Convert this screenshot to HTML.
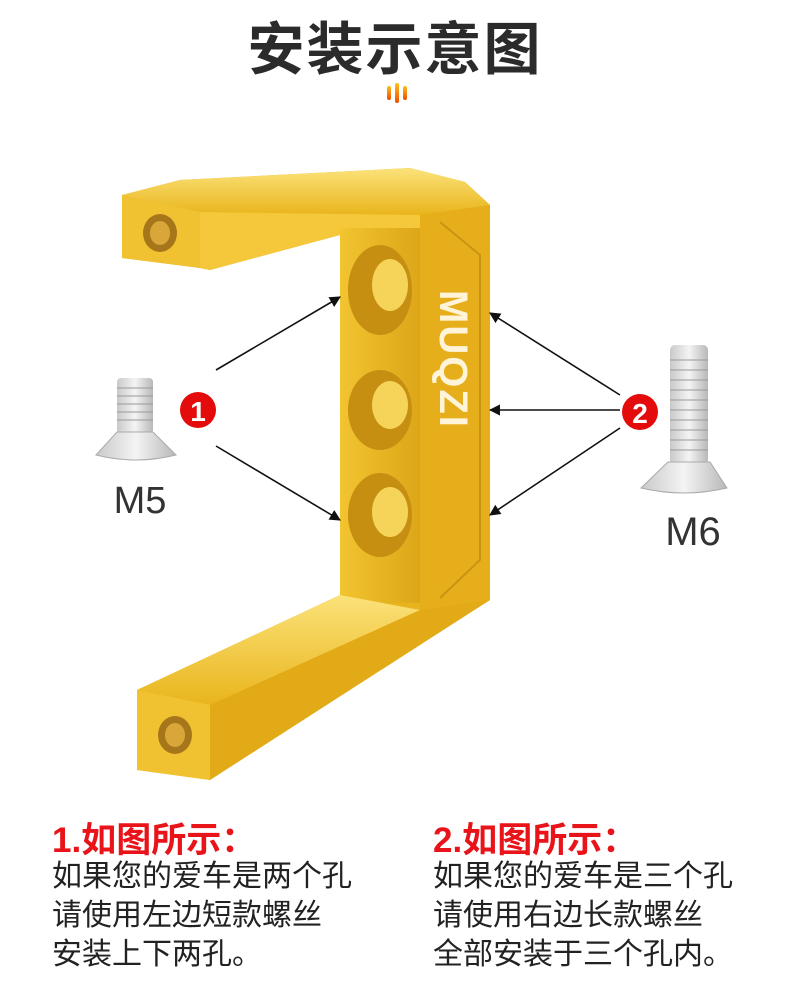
<!DOCTYPE html>
<html><head><meta charset="utf-8"><style>
html,body{margin:0;padding:0;background:#fff;}
body{width:790px;height:989px;position:relative;overflow:hidden;font-family:"Liberation Sans","Noto Sans CJK SC",sans-serif;}
.t{position:absolute;white-space:nowrap;}
</style></head><body>
<div class="t" style="left:0;width:790px;top:4px;text-align:center;font-size:57px;font-weight:bold;color:#2b2b2b;letter-spacing:2px;">安装示意图</div>
<svg width="790" height="989" style="position:absolute;left:0;top:0">
<defs>
<linearGradient id="g1" x1="0" y1="0" x2="0" y2="1"><stop offset="0" stop-color="#fbe27a"/><stop offset="1" stop-color="#e9b51c"/></linearGradient>
<linearGradient id="g2" x1="0" y1="0" x2="1" y2="0"><stop offset="0" stop-color="#f2c430"/><stop offset="1" stop-color="#dca618"/></linearGradient>
<linearGradient id="o" x1="0" y1="0" x2="0" y2="1"><stop offset="0" stop-color="#ffc21a"/><stop offset="1" stop-color="#f04a00"/></linearGradient>
<linearGradient id="s" x1="0" y1="0" x2="1" y2="0"><stop offset="0" stop-color="#c9c9c9"/><stop offset="0.5" stop-color="#f4f4f4"/><stop offset="1" stop-color="#b8b8b8"/></linearGradient>
<marker id="a" viewBox="0 0 10 10" refX="9" refY="5" markerWidth="7" markerHeight="7" orient="auto"><path d="M0,0L10,5L0,10z" fill="#111"/></marker>
</defs>
<rect x="387" y="86" width="4" height="14" rx="2" fill="url(#o)"/>
<rect x="395" y="83" width="4" height="20" rx="2" fill="url(#o)"/>
<rect x="403" y="86" width="4" height="14" rx="2" fill="url(#o)"/>
<path d="M122,195 L180,180 L410,168 L465,182 L490,205 L490,600 L420,640 L210,780 L137,770 L137,690 L340,595 L340,235 L210,270 L200,268 L122,258 Z" fill="#e8b41e"/>
<path d="M122,195 L180,180 L410,168 L465,182 L490,205 L420,215 L200,212 Z" fill="url(#g1)"/>
<path d="M122,195 L200,212 L200,268 L122,258 Z" fill="#f0c232"/>
<path d="M200,212 L420,215 L420,230 L340,235 L210,270 L200,268 Z" fill="#f4c83a"/>
<rect x="340" y="228" width="80" height="375" fill="url(#g2)"/>
<path d="M420,215 L490,205 L490,600 L420,640 Z" fill="#e6ae1a"/>
<path d="M137,690 L340,595 L420,610 L210,705 Z" fill="url(#g1)"/>
<path d="M137,690 L210,705 L210,780 L137,770 Z" fill="#f0c232"/>
<path d="M210,705 L420,610 L490,600 L420,645 L210,780 Z" fill="#e3aa18"/>
<path d="M440,222 L480,255 L480,560 L440,598" fill="none" stroke="#c99414" stroke-width="2"/>
<ellipse cx="160" cy="233" rx="17" ry="19" fill="#a7761a"/><ellipse cx="160" cy="233" rx="10" ry="12" fill="#d9a63a"/>
<ellipse cx="175" cy="735" rx="17" ry="19" fill="#a7761a"/><ellipse cx="175" cy="735" rx="10" ry="12" fill="#d9a63a"/>
<g fill="#c78f12"><ellipse cx="380" cy="290" rx="32" ry="45"/><ellipse cx="380" cy="410" rx="32" ry="40"/><ellipse cx="380" cy="515" rx="32" ry="42"/></g>
<g fill="#f6d45a"><ellipse cx="390" cy="285" rx="18" ry="26"/><ellipse cx="390" cy="405" rx="18" ry="24"/><ellipse cx="390" cy="512" rx="18" ry="25"/></g>
<text x="0" y="0" transform="translate(440,290) rotate(90)" font-family="Liberation Sans" font-weight="bold" font-size="40" fill="#fff4d8" letter-spacing="2">MUQZI</text>
<g stroke="#111" stroke-width="1.6" marker-end="url(#a)">
<line x1="216" y1="370" x2="340" y2="297"/>
<line x1="216" y1="446" x2="340" y2="520"/>
<line x1="620" y1="395" x2="490" y2="313"/>
<line x1="620" y1="410" x2="490" y2="410"/>
<line x1="620" y1="428" x2="490" y2="515"/>
</g>
<circle cx="198" cy="410" r="18" fill="#e30b0b"/>
<text x="198" y="421" text-anchor="middle" font-family="Liberation Sans" font-weight="bold" font-size="28" fill="#fff">1</text>
<circle cx="640" cy="412" r="18" fill="#e30b0b"/>
<text x="640" y="423" text-anchor="middle" font-family="Liberation Sans" font-weight="bold" font-size="28" fill="#fff">2</text>
<rect x="117" y="378" width="36" height="56" rx="4" fill="url(#s)"/>
<g stroke="#999" stroke-width="1">
<line x1="117" y1="388" x2="153" y2="388"/><line x1="117" y1="396" x2="153" y2="396"/><line x1="117" y1="404" x2="153" y2="404"/><line x1="117" y1="412" x2="153" y2="412"/><line x1="117" y1="420" x2="153" y2="420"/></g>
<path d="M117,432 L153,432 L176,455 Q136,465 96,455 Z" fill="url(#s)" stroke="#aaa"/>
<rect x="670" y="345" width="38" height="120" rx="5" fill="url(#s)"/>
<g stroke="#999" stroke-width="1">
<line x1="670" y1="360" x2="708" y2="360"/><line x1="670" y1="370" x2="708" y2="370"/><line x1="670" y1="380" x2="708" y2="380"/><line x1="670" y1="390" x2="708" y2="390"/><line x1="670" y1="400" x2="708" y2="400"/><line x1="670" y1="410" x2="708" y2="410"/><line x1="670" y1="420" x2="708" y2="420"/><line x1="670" y1="430" x2="708" y2="430"/><line x1="670" y1="440" x2="708" y2="440"/><line x1="670" y1="450" x2="708" y2="450"/></g>
<path d="M668,462 L710,462 L727,488 Q684,498 641,488 Z" fill="url(#s)" stroke="#aaa"/>
<text x="140" y="513" text-anchor="middle" font-family="Liberation Sans" font-size="38" fill="#333">M5</text>
<text x="693" y="545" text-anchor="middle" font-family="Liberation Sans" font-size="40" fill="#333">M6</text>
</svg>
<div class="t" style="left:52px;top:812px;font-size:35px;font-weight:bold;color:#e8141a;">1.如图所示：</div>
<div class="t" style="left:52px;top:857px;font-size:30px;color:#222;line-height:39px;">如果您的爱车是两个孔<br>请使用左边短款螺丝<br>安装上下两孔。</div>
<div class="t" style="left:433px;top:812px;font-size:35px;font-weight:bold;color:#e8141a;">2.如图所示：</div>
<div class="t" style="left:433px;top:857px;font-size:30px;color:#222;line-height:39px;">如果您的爱车是三个孔<br>请使用右边长款螺丝<br>全部安装于三个孔内。</div>
</body></html>
